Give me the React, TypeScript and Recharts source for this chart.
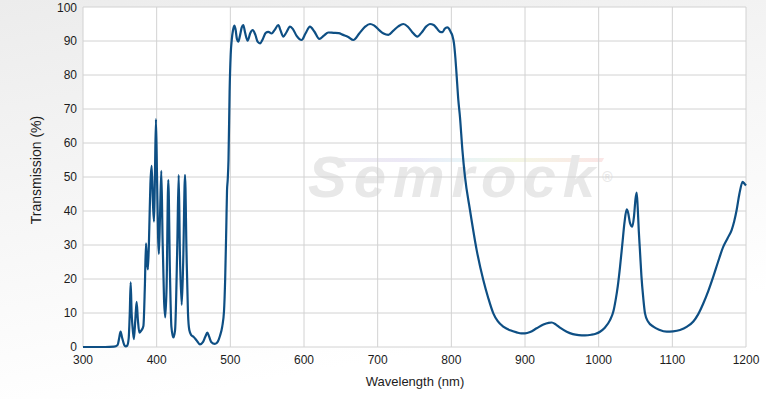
import { LineChart, Line, XAxis, YAxis, CartesianGrid } from 'recharts';

const wavelengths = [
  300, 330, 342, 347, 349, 351, 353, 356, 358, 360, 362, 363.5, 364.7, 366, 367, 369, 371, 372.8, 374.5,
  376.5, 379, 382, 384, 385.5, 387, 388.2, 390, 391.5, 393.2, 395, 396.4, 397.5, 399, 400.5, 402, 403,
  404.5, 406.3, 408, 410, 411.7, 413.5, 415.8, 418, 420, 422.6, 425, 428, 429.9, 431.5, 434, 436, 438.5,
  440.5, 442.5, 444.3, 447, 450, 454, 458.8, 463, 466, 468.8, 471, 474, 479, 483, 486, 489, 491.4, 493,
  494.5, 495.5, 496.4, 497.5, 499, 500.5, 502, 503.5, 505.4, 507, 509, 510.8, 513, 515.5, 517.6, 520,
  523.5, 527, 530.3, 534, 537, 540.3, 544, 548, 551.6, 556, 560, 565.2, 568, 572, 576, 581, 585, 590,
  596.8, 602, 608.1, 614, 620.8, 627, 633, 640, 647, 653, 660, 667, 675, 683, 689.6, 695, 702, 708,
  714.5, 721, 728, 734.8, 741, 747, 753.8, 760, 766, 771, 776, 780, 784.6, 788, 791, 794.5, 797, 799,
  801.5, 803.6, 805.5, 807, 809.5, 811.7, 815, 818.5, 825.3, 834.4, 843.4, 850, 857, 863, 870.5, 880,
  888.7, 895, 900, 907, 915.8, 925, 932, 936.2, 942, 948, 956.6, 965, 973, 981.4, 990, 996, 1001.8,
  1008, 1015.4, 1020, 1023, 1026, 1029, 1032, 1035, 1038, 1040, 1042.5, 1045.7, 1048, 1050, 1051.6,
  1053, 1054.5, 1056, 1058, 1060.5, 1062.9, 1067, 1074.2, 1082, 1092.3, 1101, 1110.4, 1120, 1128.5,
  1135, 1142, 1149, 1155.6, 1162, 1169.2, 1175, 1180.5, 1184, 1187.3, 1191, 1195.4, 1198, 1200,
];

const transmission = [
  0, 0, 0.1, 0.6, 2.5, 4.5, 2.8, 0.6, 0.2, 0.4, 2.5, 10, 19, 10, 6.5, 2.3, 8, 13.3, 8,
  4.2, 4.8, 6.2, 18, 30.5, 25, 22.8, 35, 48, 53.3, 42, 36.9, 48, 67, 50, 32, 27.4,
  38, 51.8, 32, 14, 8.7, 18, 49.1, 22, 6, 2.8, 5, 30, 50.6, 28, 12.4, 25, 50.6,
  28, 10, 5, 3.5, 3, 2, 0.8, 1.5, 3, 4.2, 3.2, 1.5, 0.9, 1.6, 3.3, 6, 10.5, 20,
  35, 46, 49, 55, 75, 86, 90.5, 93, 94.5, 93.5, 90.5, 89.8, 91.5, 94, 94.7, 92.5,
  90.1, 92.3, 93.2, 91.8, 89.8, 89.3, 90.5, 92.4, 92.7, 92.2, 93.2, 94.7, 93.2, 91.3, 92.5, 94.2, 93.5, 91.5,
  90.3, 92.2, 94.2, 92.8, 90.6, 91.6, 92.5, 92.4, 92.3, 91.8, 91.2, 90.3, 92.2, 94.2, 95, 94.6, 93.2, 92.2,
  91.8, 93, 94.3, 95, 94.2, 92.6, 91.3, 92.6, 94.3, 95, 94.7, 93.8, 92.7, 92.6, 93.6, 94, 93.6, 92.7,
  91.5, 89.3, 85, 80.5, 72.6, 67.7, 58, 50.1, 40.3, 28.5, 19.7, 14.5, 9.9, 7.6, 6, 4.9,
  4.3, 4.0, 4.0, 4.4, 5.5, 6.6, 7.1, 7.2, 6.6, 5.6, 4.5, 3.8, 3.5, 3.4, 3.6, 3.9, 4.5,
  5.6, 7.9, 10.5, 13.8, 18, 23.6, 30, 36.5, 40.5, 39.5, 36.5, 35.4, 38.5, 43.5, 45.4,
  41, 34, 28.5, 21, 14.5, 9.9, 7.5, 6, 5.1, 4.5, 4.6, 5, 6, 7.5,
  9.6, 12.8, 16.6, 20.7, 25, 29.5, 32, 34.4, 37, 40.3, 45, 48.6, 48, 47.5,
];

const xTicks = [300, 400, 500, 600, 700, 800, 900, 1000, 1100, 1200];
const yTicks = [0, 10, 20, 30, 40, 50, 60, 70, 80, 90, 100];

const data = wavelengths.map((w, i) => ({ wl: w, t: transmission[i] }));

const font = '"Liberation Sans", Arial, sans-serif';
const tickStyle = { fontSize: 12, fill: '#1c1c1c', fontFamily: font };

export default function App() {
  return (
    <div
      style={{
        position: 'absolute',
        left: 0,
        top: 0,
        width: 766,
        height: 399,
        background: 'linear-gradient(170deg, #ececec 0%, #f7f7f7 45%, #ffffff 80%)',
      }}
    >
      {/* plot background + watermark sit under the svg */}
      <div style={{ position: 'absolute', left: 83, top: 7, width: 663, height: 340, background: '#fff' }} />
      <div
        style={{
          position: 'absolute',
          left: 318,
          top: 158,
          width: 285,
          height: 4,
          background: 'linear-gradient(90deg, #eeeeee, #ece8f6 30%, #e8f4f8 50%, #f4f6e4 70%, #fbe6e6)',
          transform: 'skewX(-30deg)',
        }}
      />
      <div
        style={{
          position: 'absolute',
          left: 308,
          top: 142,
          fontFamily: font,
          fontWeight: 'bold',
          fontStyle: 'italic',
          fontSize: 58,
          letterSpacing: 7,
          color: '#e8e8e8',
          lineHeight: '70px',
        }}
      >
        Semrock<span style={{ fontSize: 14, verticalAlign: 'top', marginLeft: 0 }}>®</span>
      </div>
      <div style={{ position: 'absolute', left: 0, top: 0 }}>
        <LineChart width={766} height={399} data={data} margin={{ top: 7, right: 20, bottom: 22, left: 0 }}>
          <CartesianGrid stroke="#d2d2d2" strokeWidth={1} fill="none" />
          <XAxis
            dataKey="wl"
            type="number"
            domain={[300, 1200]}
            ticks={xTicks}
            tickLine={false}
            axisLine={false}
            tickSize={0}
            tickMargin={8}
            height={30}
            tick={tickStyle}
            label={{
              content: () => (
                <text x={415} y={386} textAnchor="middle" fontSize={13} fill="#1c1c1c" fontFamily={font}>
                  Wavelength (nm)
                </text>
              ),
            }}
          />
          <YAxis
            type="number"
            domain={[0, 100]}
            ticks={yTicks}
            tickLine={false}
            axisLine={false}
            tickSize={0}
            tickMargin={6}
            width={83}
            tick={tickStyle}
            label={{
              content: () => (
                <text
                  x={41}
                  y={170}
                  transform="rotate(-90 41 170)"
                  textAnchor="middle"
                  fontSize={14}
                  fill="#1c1c1c"
                  fontFamily={font}
                >
                  Transmission (%)
                </text>
              ),
            }}
          />
          <Line
            type="monotone"
            dataKey="t"
            stroke="#0e4f84"
            strokeWidth={2.2}
            dot={false}
            isAnimationActive={false}
          />
        </LineChart>
      </div>
    </div>
  );
}
